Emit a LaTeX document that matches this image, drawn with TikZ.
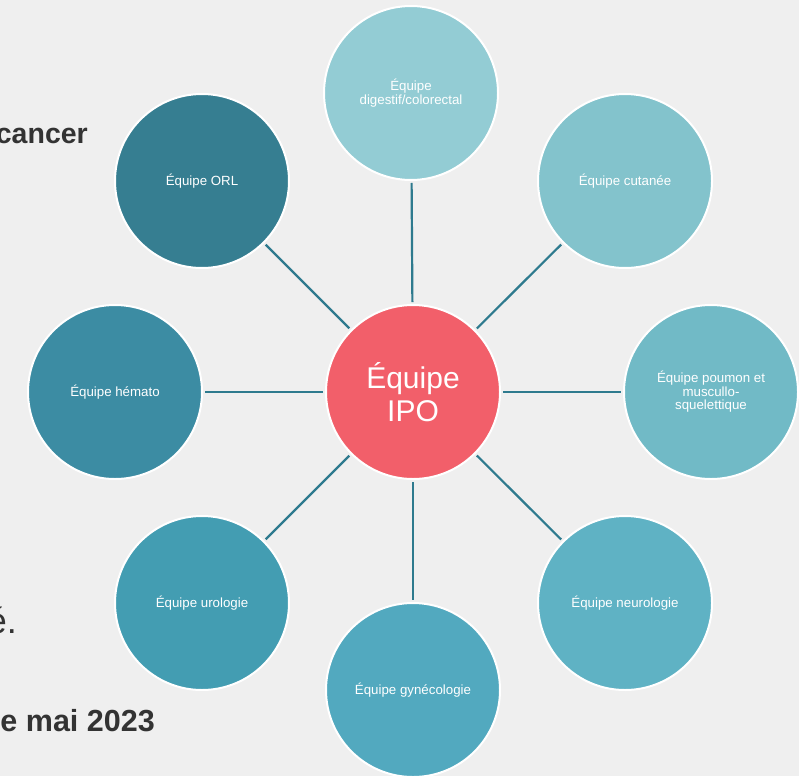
\documentclass[tikz,border=0pt]{standalone}
\usepackage{fontspec}
\setmainfont{Liberation Sans}
\definecolor{bgc}{HTML}{EFEFEF}
\definecolor{linkc}{HTML}{2E7A8E}
\definecolor{cORL}{HTML}{367E91}
\definecolor{cHem}{HTML}{3C8CA3}
\definecolor{cUro}{HTML}{439DB2}
\definecolor{cGyn}{HTML}{52A9BF}
\definecolor{cNeu}{HTML}{5FB2C4}
\definecolor{cPou}{HTML}{71BAC6}
\definecolor{cCut}{HTML}{83C3CC}
\definecolor{cDig}{HTML}{93CCD4}
\definecolor{cIPO}{HTML}{F25F6A}
\definecolor{txt}{HTML}{333333}
\begin{document}
\begin{tikzpicture}[x=1pt,y=-1pt,
  team/.style={circle, draw=white, line width=2pt, minimum size=174pt, inner sep=0pt,
    text=white, align=center, font=\fontsize{13.3}{13.6}\selectfont},
  hub/.style={team, font=\fontsize{30}{32.5}\selectfont},
  link/.style={draw=linkc, line width=2.2pt, shorten <=2pt, shorten >=2pt},
  side/.style={inner sep=0pt, text=txt}]
\fill[bgc] (0,0) rectangle (799,776);
\useasboundingbox (0,0) rectangle (799,776);
% left text fragments
\node[side, anchor=base east, font=\fontsize{28.5}{30}\selectfont\bfseries] (t1) at (88,143) {cancer};
\node[side, anchor=base east, font=\fontsize{36}{38}\selectfont] (t2) at (17,633) {é.};
\node[side, anchor=base east, font=\fontsize{30.5}{32}\selectfont\bfseries] (t3) at (155,731) {e mai 2023};
% circles
\node[hub, fill=cIPO] (ipo) at (413,392) {Équipe\\IPO};
\node[team, fill=cDig] (dig) at (411,93) {Équipe\\digestif/colorectal};
\node[team, fill=cCut] (cut) at (625,181) {Équipe cutanée};
\node[team, fill=cPou] (pou) at (711,392) {Équipe poumon et\\muscullo-\\squelettique};
\node[team, fill=cNeu] (neu) at (625,603) {Équipe neurologie};
\node[team, fill=cGyn] (gyn) at (413,690) {Équipe gynécologie};
\node[team, fill=cUro] (uro) at (202,603) {Équipe urologie};
\node[team, fill=cHem] (hem) at (115,392) {Équipe hémato};
\node[team, fill=cORL] (orl) at (202,181) {Équipe ORL};
% connectors
\foreach \n in {dig,cut,pou,neu,gyn,uro,hem,orl}
  \draw[link] (ipo) -- (\n);
\end{tikzpicture}
\end{document}
